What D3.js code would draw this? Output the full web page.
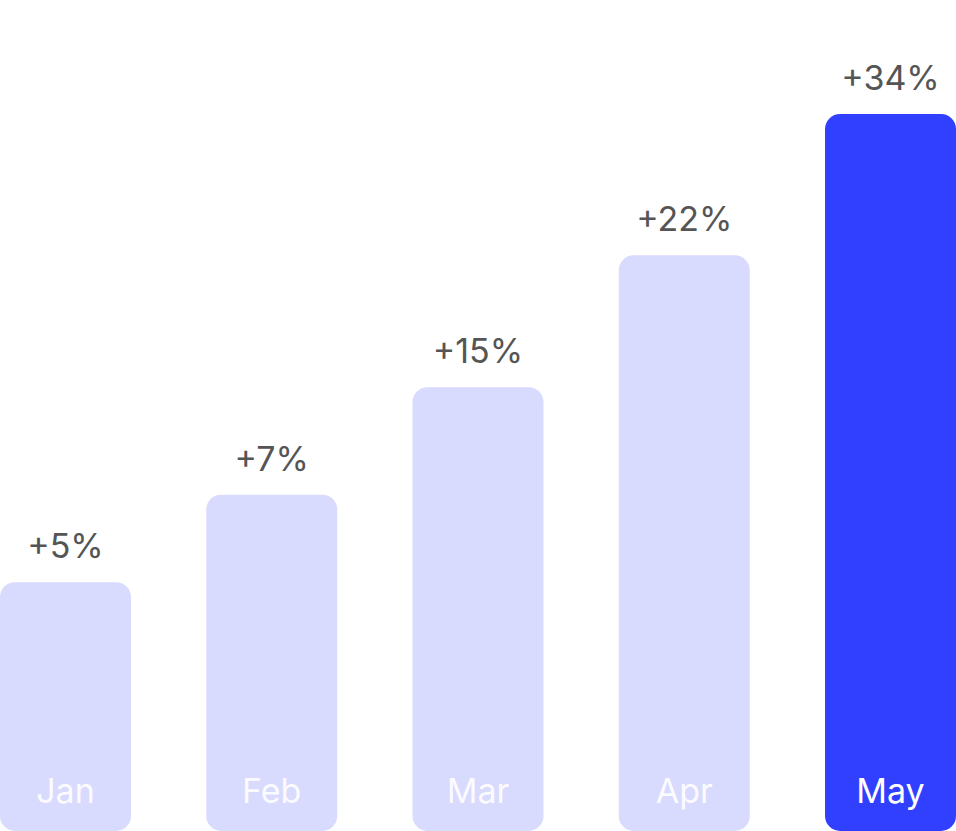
<!DOCTYPE html>
<html><head><meta charset="utf-8">
<script src="https://cdn.jsdelivr.net/npm/d3@7"></script>
<style>html,body{margin:0;padding:0;background:#fff;}svg{display:block;}</style>
</head><body>
<svg id="chart" width="956" height="831"></svg>
<script>
const months = ["Jan", "Feb", "Mar", "Apr", "May"];
const growthLabels = ["+5%", "+7%", "+15%", "+22%", "+34%"];
const barHeights = [34.7, 46.9, 61.9, 80.3, 100];
const highlighted = ["May"];

const W = 956, H = 831;
const svg = d3.select("#chart");
const x = d3.scaleBand().domain(months).range([0, W]).paddingInner(0.365).paddingOuter(0);
const y = d3.scaleLinear().domain([0, 100]).range([H, 114]);

const data = months.map((m, i) => ({ m, label: growthLabels[i], v: barHeights[i] }));

const g = svg.append("g");
g.selectAll("rect.bar").data(data).join("rect")
  .attr("class", "bar")
  .attr("x", d => x(d.m))
  .attr("y", d => y(d.v))
  .attr("width", x.bandwidth())
  .attr("height", d => y(0) - y(d.v))
  .attr("rx", 15).attr("ry", 15)
  .attr("fill", d => highlighted.includes(d.m) ? "#3140ff" : "#d8dafe");

g.selectAll("text.val").data(data).join("text")
  .attr("class", "val")
  .attr("x", d => x(d.m) + x.bandwidth() / 2)
  .attr("y", d => y(d.v) - 24)
  .attr("text-anchor", "middle")
  .attr("font-family", "Inter, 'Noto Sans', sans-serif")
  .attr("font-size", 34)
  .attr("fill", "#555555")
  .text(d => d.label);

g.selectAll("text.month").data(data).join("text")
  .attr("class", "month")
  .attr("x", d => x(d.m) + x.bandwidth() / 2)
  .attr("y", H - 28)
  .attr("text-anchor", "middle")
  .attr("font-family", "Inter, 'Noto Sans', sans-serif")
  .attr("font-size", 34)
  .attr("fill", "#ffffff")
  .attr("fill-opacity", d => highlighted.includes(d.m) ? 1 : 0.92)
  .text(d => d.m);
</script>
</body></html>
